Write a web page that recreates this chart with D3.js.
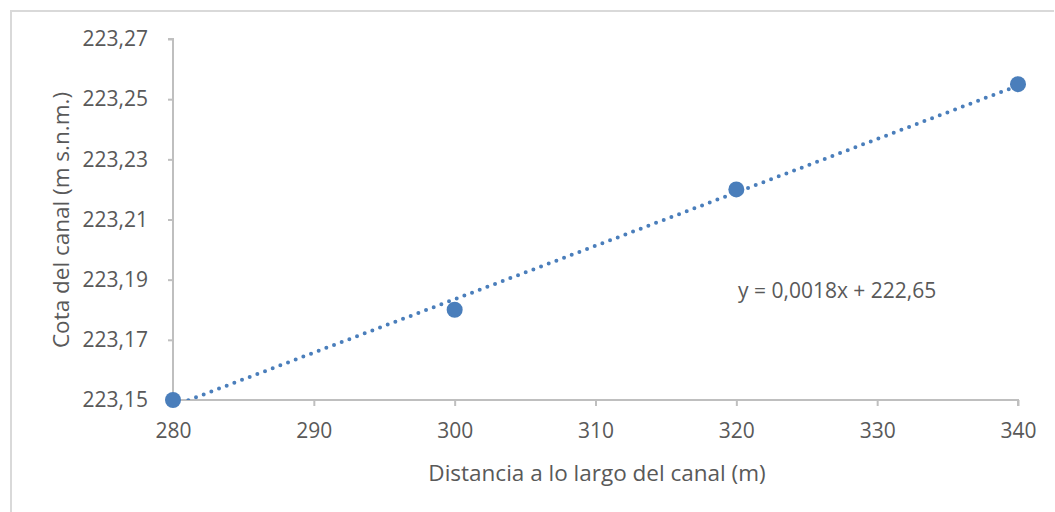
<!DOCTYPE html>
<html>
<head>
<meta charset="utf-8">
<script src="https://cdn.jsdelivr.net/npm/d3@7"></script>
<style>
  body { margin: 0; background: #fff; }
  text { font-family: "Open Sans", "Noto Sans", sans-serif; fill: #595959; }
</style>
</head>
<body>
<div id="chart"></div>
<script>
/* Data */
var distancias = [280, 300, 320, 340];
var cotas = [223.15, 223.18, 223.22, 223.255];
var xTicks = [280, 290, 300, 310, 320, 330, 340];
var yTicks = [223.15, 223.17, 223.19, 223.21, 223.23, 223.25, 223.27];
var ecuacion = "y = 0,0018x + 222,65";

var width = 1055, height = 512;
var margin = {top: 39, right: 37, bottom: 112, left: 173};

var svg = d3.select("#chart").append("svg")
    .attr("width", width)
    .attr("height", height);

// outer chart frame (only top and left edges visible)
svg.append("path")
    .attr("d", "M11,512V11H1054")
    .attr("fill", "none")
    .attr("stroke", "#d9d9d9")
    .attr("stroke-width", 2);

var x = d3.scaleLinear().domain([280, 340]).range([margin.left, width - margin.right]);
var y = d3.scaleLinear().domain([223.15, 223.27]).range([height - margin.bottom, margin.top]);

var fmt = function(d) { return d3.format(".2f")(d).replace(".", ","); };

// y axis
var gy = svg.append("g")
    .attr("transform", "translate(" + margin.left + ",0)")
    .call(d3.axisLeft(y).tickValues(yTicks).tickFormat(fmt).tickSize(5).tickPadding(20));
// x axis
var gx = svg.append("g")
    .attr("transform", "translate(0," + (height - margin.bottom) + ")")
    .call(d3.axisBottom(x).tickValues(xTicks).tickFormat(d3.format("d")).tickSize(6).tickPadding(17));

[gx, gy].forEach(function(g) {
    g.select(".domain").attr("stroke", "#bfbfbf").attr("stroke-width", 2);
    g.selectAll(".tick line").attr("stroke", "#bfbfbf").attr("stroke-width", 2);
    g.selectAll(".tick text").attr("fill", "#595959").style("font-size", "21px")
        .style("font-family", "'Open Sans', 'Noto Sans', sans-serif");
});
gx.select(".domain").attr("d", "M" + margin.left + ",6V0H" + (width - margin.right) + "V6");
gy.select(".domain").attr("d", "M-5," + margin.top + "H0V" + (height - margin.bottom));

// linear trendline (least squares)
var mx = d3.mean(distancias), my = d3.mean(cotas);
var sxy = d3.sum(distancias, function(d, i) { return (d - mx) * (cotas[i] - my); });
var sxx = d3.sum(distancias, function(d) { return (d - mx) * (d - mx); });
var b = sxy / sxx, a = my - b * mx;

svg.append("clipPath").attr("id", "plot")
    .append("rect")
    .attr("x", margin.left).attr("y", margin.top)
    .attr("width", width - margin.left - margin.right)
    .attr("height", height - margin.top - margin.bottom);

svg.append("line")
    .attr("clip-path", "url(#plot)")
    .attr("x1", x(280)).attr("y1", y(a + b * 280))
    .attr("x2", x(340)).attr("y2", y(a + b * 340))
    .attr("stroke", "#4a7ebb")
    .attr("stroke-width", 4)
    .attr("stroke-dasharray", "0,8.2")
    .attr("stroke-linecap", "round");

// points
svg.selectAll(".pt")
    .data(distancias)
    .enter().append("circle")
    .attr("class", "pt")
    .attr("cx", function(d) { return x(d); })
    .attr("cy", function(d, i) { return y(cotas[i]); })
    .attr("r", 8)
    .attr("fill", "#4a7ebb");

// trendline equation
svg.append("text")
    .attr("x", 738).attr("y", 298)
    .style("font-size", "21px")
    .text(ecuacion);

// axis titles
svg.append("text")
    .attr("x", 597)
    .attr("y", 481)
    .attr("text-anchor", "middle")
    .style("font-size", "22.5px")
    .text("Distancia a lo largo del canal (m)");

svg.append("text")
    .attr("transform", "translate(69,220) rotate(-90)")
    .attr("text-anchor", "middle")
    .style("font-size", "22.5px")
    .text("Cota del canal (m s.n.m.)");
</script>
</body>
</html>
